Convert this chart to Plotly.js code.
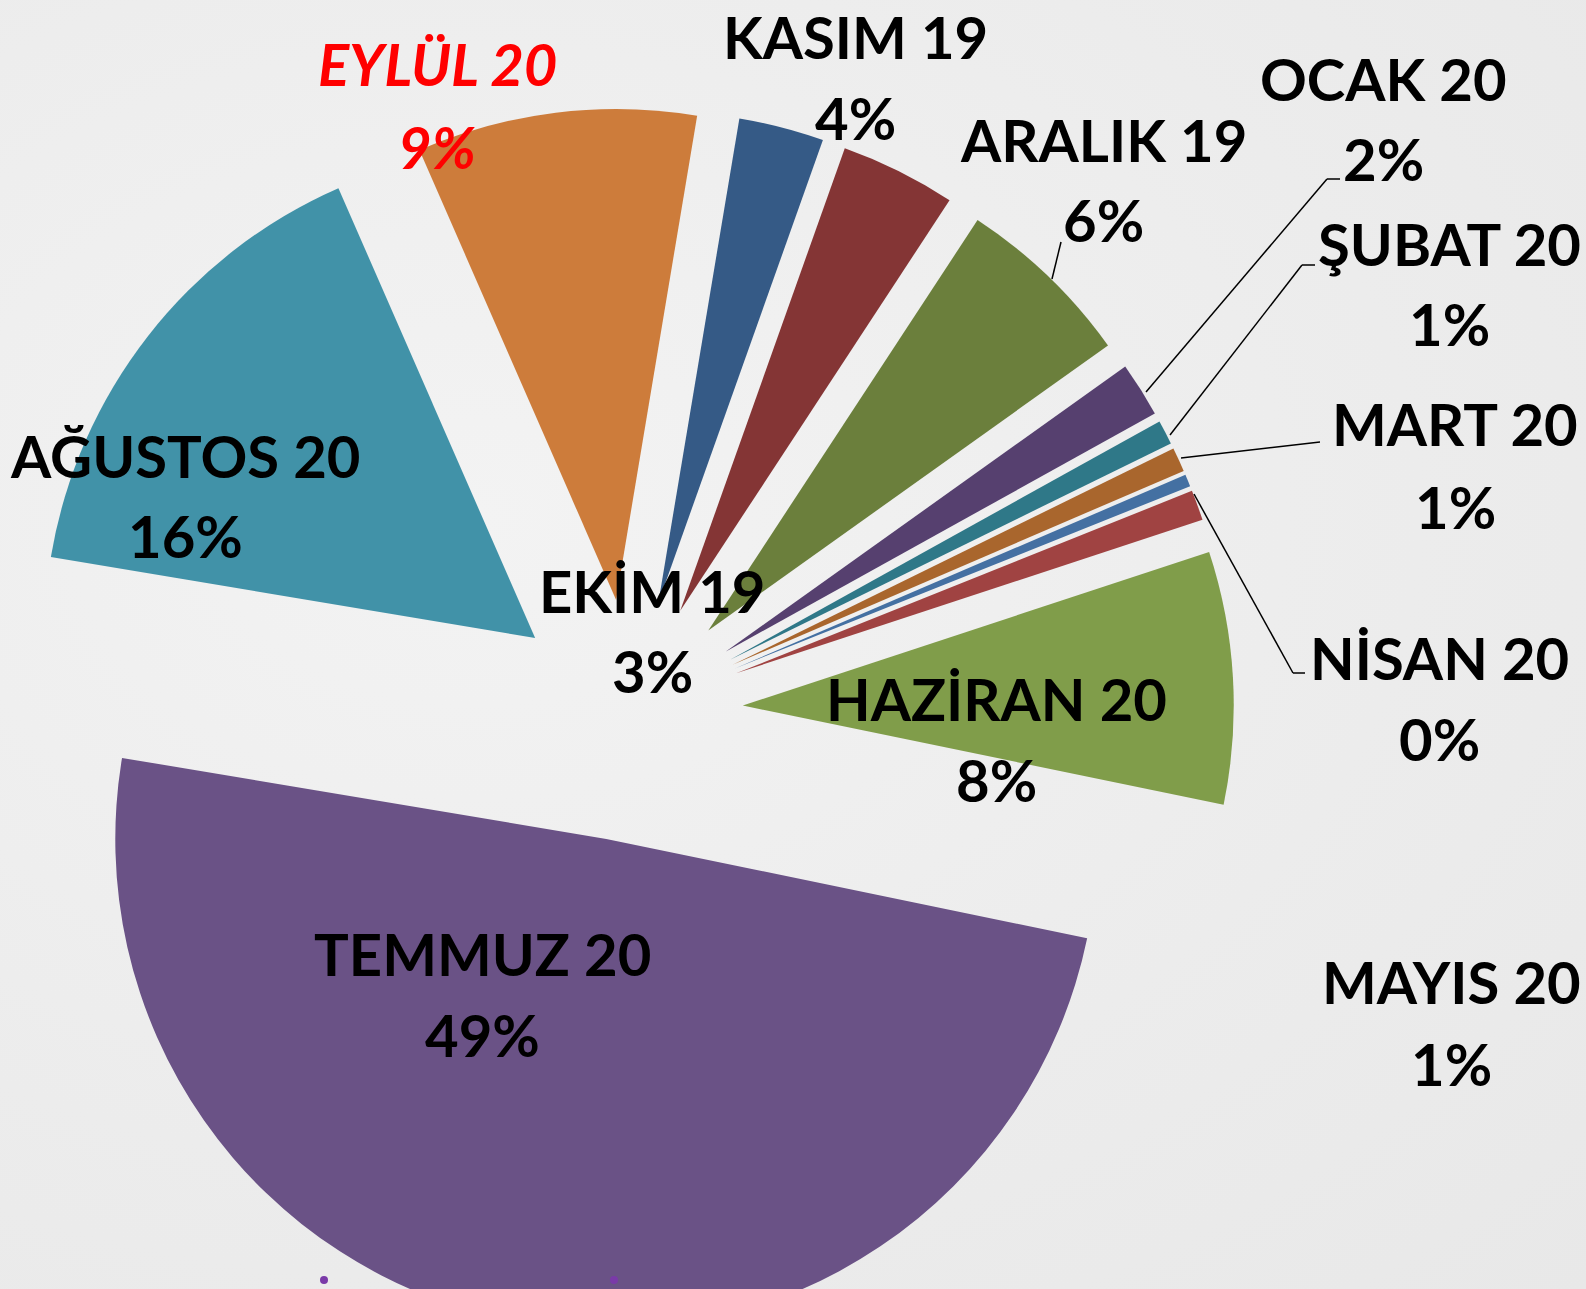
<!DOCTYPE html>
<html>
<head>
<meta charset="utf-8">
<script src="https://cdn.plot.ly/plotly-3.0.1.min.js"></script>
<style>
  html, body { margin: 0; padding: 0; overflow: hidden; width: 1586px; height: 1289px; }
  #wrap { position: relative; width: 1586px; height: 1289px; overflow: hidden;
          background: radial-gradient(ellipse at 30% 40%, #f3f3f3 0%, #ececec 60%, #e8e8e8 100%); }
  #chart { position: absolute; left: -170px; top: -100px; width: 1800px; height: 1500px; }
</style>
</head>
<body>
<div id="wrap"><div id="chart"></div></div>
<script>
// ---- data ----
const months = ['EKİM 19', 'KASIM 19', 'ARALIK 19', 'OCAK 20', 'ŞUBAT 20', 'MART 20',
                'NİSAN 20', 'MAYIS 20', 'HAZİRAN 20', 'TEMMUZ 20', 'AĞUSTOS 20', 'EYLÜL 20'];
const shares = [2.8, 3.8, 5.9, 1.8, 0.8, 0.8, 0.4, 1.0, 8.3, 49.4, 15.8, 9.2];

// ---- style ----
const sliceColors = ['#355a86', '#843535', '#6b7f3c', '#56406f', '#2f7888', '#a9662d',
                     '#4470a2', '#a04342', '#809d4a', '#6a5286', '#4192a8', '#cd7c3b'];
const pulls = [0.23, 0.23, 0.23, 0.23, 0.23, 0.23, 0.23, 0.23, 0.23, 0.263, 0.245, 0.23];

// label placement (page pixels): [x, y of name line, y of percent line]
const labelPos = [
  [652, 590, 670], [855, 36, 117], [1103, 139, 219], [1383, 78, 159],
  [1449, 243, 324], [1455, 424, 506], [1439, 657, 738], [1451, 981, 1063],
  [996, 698, 779], [482, 953, 1034], [185, 455, 536], [437, 64, 147]
];
const labelColors = ['#000', '#000', '#000', '#000', '#000', '#000', '#000', '#000',
                     '#000', '#000', '#000', '#ff0000'];
const labelItalic = [false, false, false, false, false, false, false, false, false, false, false, true];

// leader lines (page pixels)
const leaders = [
  [[1052, 279], [1061, 242]],
  [[1146, 392], [1327, 179], [1340, 179]],
  [[1170, 435], [1302, 265], [1315, 265]],
  [[1181, 458], [1320, 442]],
  [[1194, 494], [1293, 673], [1305, 673]]
];

// ---- geometry of the plot div ----
const DIV_L = -170, DIV_T = -100, DIV_W = 1800, DIV_H = 1500;
const cx = 630, cy = 712, radius = 491;
const maxPull = Math.max(...pulls);
const half = radius * (1 + maxPull);
const px = x => (x - DIV_L) / DIV_W;
const py = y => 1 - (y - DIV_T) / DIV_H;

const total = shares.reduce((a, b) => a + b, 0);
const pctText = shares.map(v => Math.round(v / total * 100) + '%');

const trace = {
  type: 'pie',
  labels: months,
  values: shares,
  sort: false,
  direction: 'clockwise',
  rotation: 9.5,
  pull: pulls,
  textinfo: 'none',
  hoverinfo: 'label+percent',
  marker: { colors: sliceColors, line: { width: 0 } },
  domain: {
    x: [px(cx - half), px(cx + half)],
    y: [py(cy + half), py(cy - half)]
  }
};

const font = (i) => ({
  family: 'Lato, "Open Sans", sans-serif',
  size: 58,
  weight: 700,
  style: labelItalic[i] ? 'italic' : 'normal',
  color: labelColors[i]
});

const annotations = [];
months.forEach((m, i) => {
  const [x, y1, y2] = labelPos[i];
  annotations.push({ xref: 'paper', yref: 'paper', x: px(x), y: py(y1), text: m,
    showarrow: false, xanchor: 'center', yanchor: 'middle', font: font(i) });
  annotations.push({ xref: 'paper', yref: 'paper', x: px(x), y: py(y2), text: pctText[i],
    showarrow: false, xanchor: 'center', yanchor: 'middle', font: font(i) });
});

const shapes = [];
leaders.forEach(pts => {
  for (let k = 0; k < pts.length - 1; k++) {
    shapes.push({ type: 'line', xref: 'paper', yref: 'paper',
      x0: px(pts[k][0]), y0: py(pts[k][1]), x1: px(pts[k + 1][0]), y1: py(pts[k + 1][1]),
      line: { color: '#000', width: 1.5 } });
  }
});
// two small purple marks at the bottom edge
[[324, 1280], [614, 1280]].forEach(([x, y]) => {
  shapes.push({ type: 'circle', xref: 'paper', yref: 'paper',
    x0: px(x - 4), x1: px(x + 4), y0: py(y - 4), y1: py(y + 4),
    fillcolor: '#7a3aa8', line: { width: 0 } });
});

const layout = {
  width: DIV_W, height: DIV_H,
  margin: { l: 0, r: 0, t: 0, b: 0 },
  paper_bgcolor: 'rgba(0,0,0,0)',
  plot_bgcolor: 'rgba(0,0,0,0)',
  showlegend: false,
  annotations: annotations,
  shapes: shapes
};

Plotly.newPlot('chart', [trace], layout, { displayModeBar: false, staticPlot: true });
</script>
</body>
</html>
